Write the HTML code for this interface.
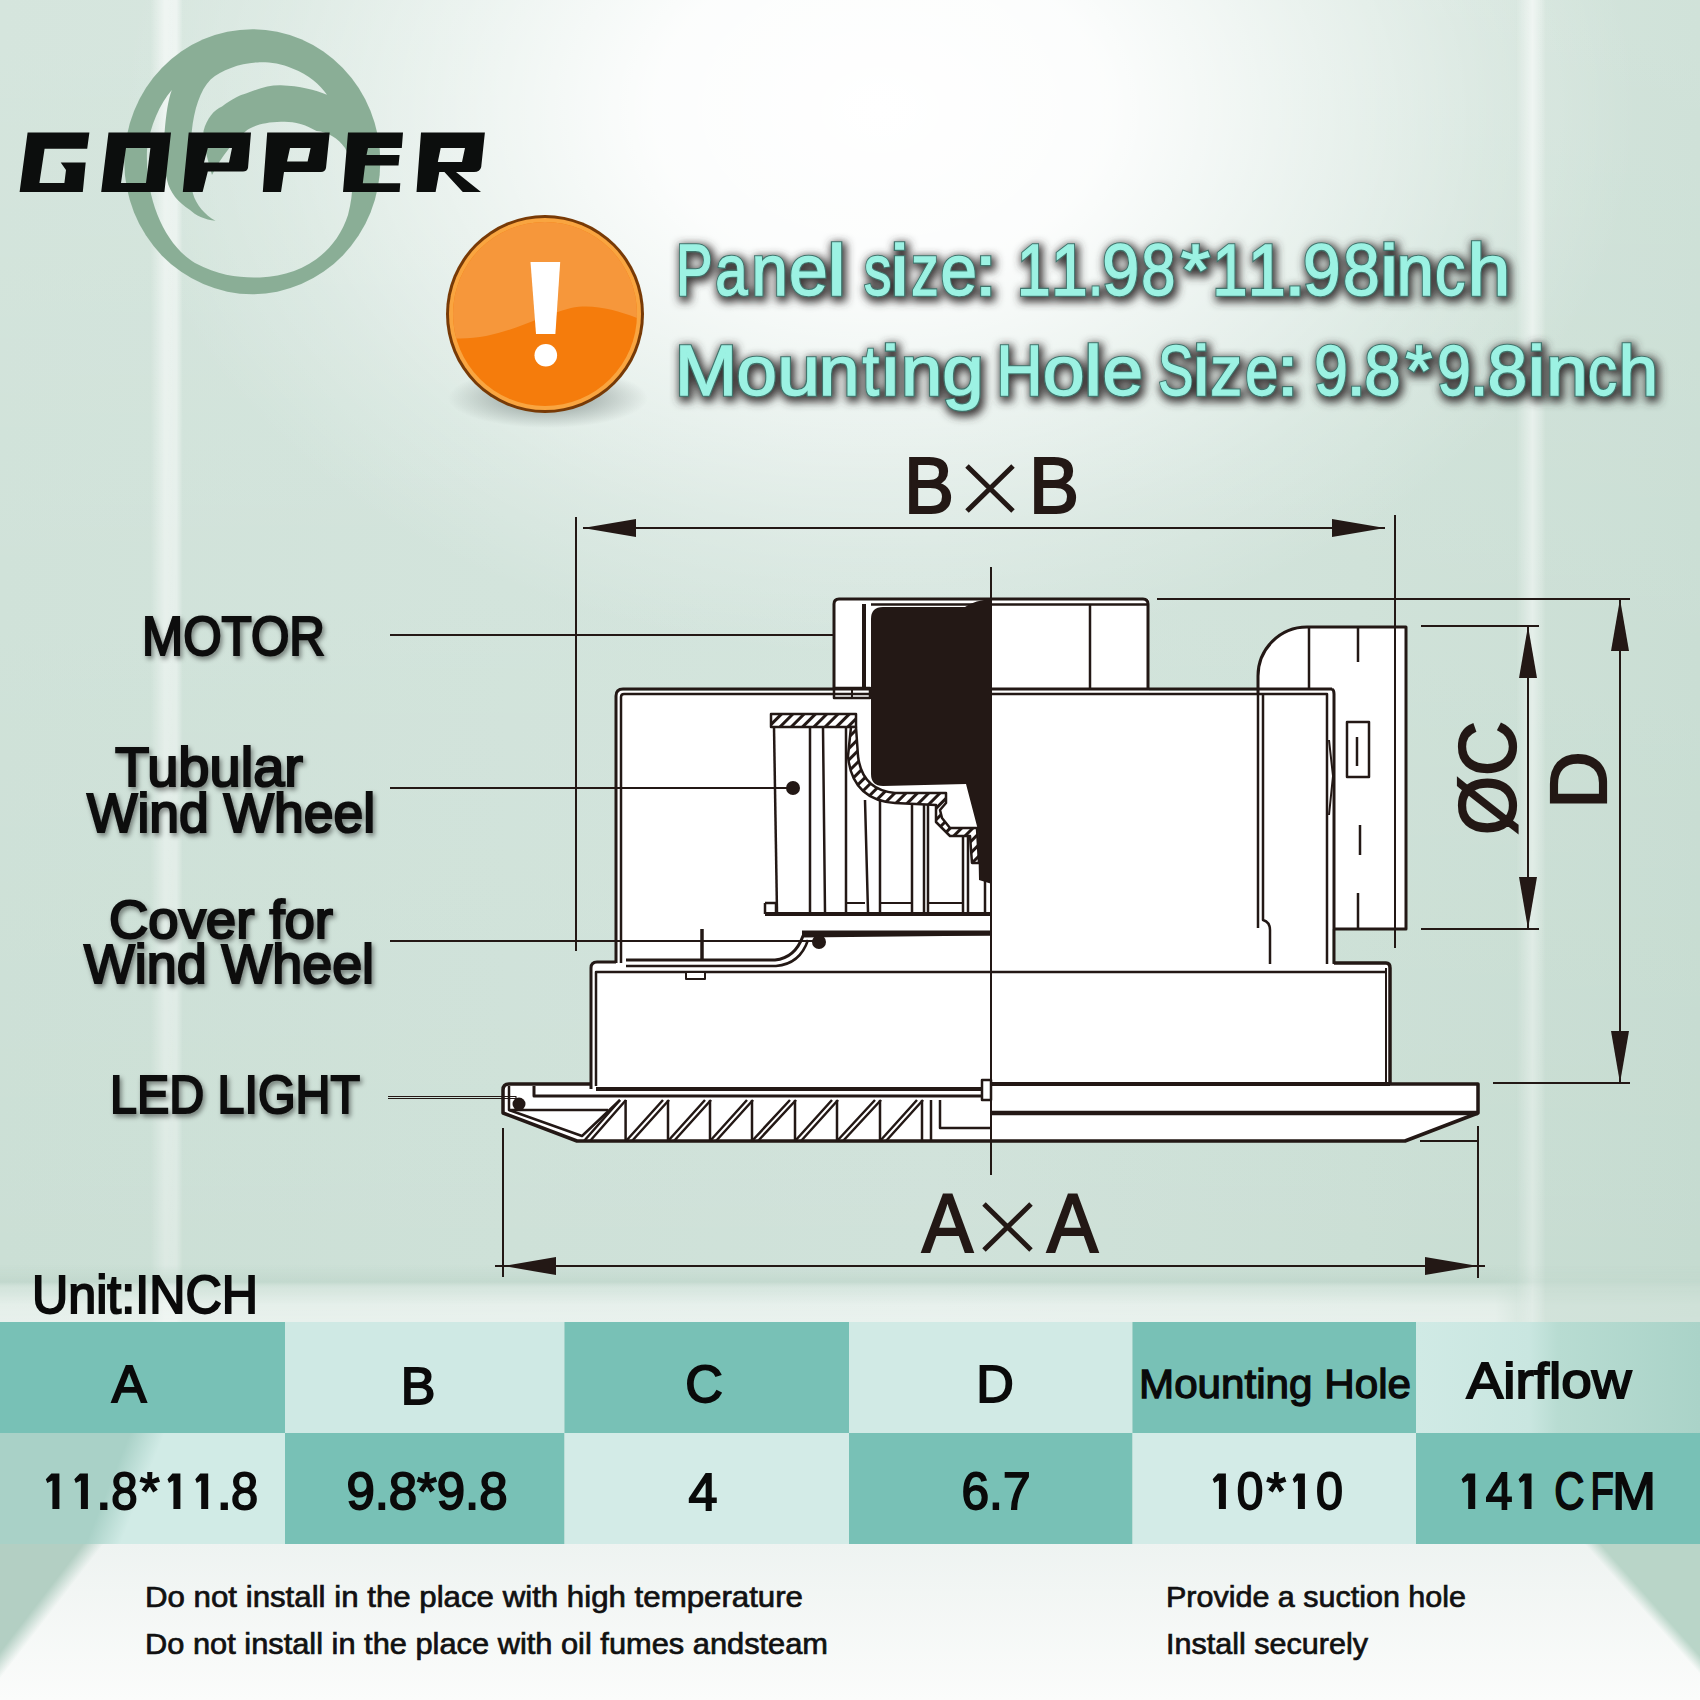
<!DOCTYPE html>
<html><head><meta charset="utf-8">
<style>
html,body{margin:0;padding:0;width:1700px;height:1700px;overflow:hidden;background:#d3e6df;}
#bg{position:absolute;left:0;top:0;width:1700px;height:1700px;}
svg{position:absolute;left:0;top:0;}
text{font-family:"Liberation Sans",sans-serif;}
</style></head>
<body>
<svg id="bg" width="1700" height="1700" viewBox="0 0 1700 1700">
<defs>
  <linearGradient id="hgrad" x1="0" y1="0" x2="1" y2="0">
    <stop offset="0" stop-color="#cbdfd5"/>
    <stop offset="0.3" stop-color="#cee1d8"/>
    <stop offset="0.55" stop-color="#d0e2da"/>
    <stop offset="0.8" stop-color="#cbdfd5"/>
    <stop offset="1" stop-color="#c5dbd0"/>
  </linearGradient>
  <radialGradient id="glow" cx="880" cy="110" r="760" gradientUnits="userSpaceOnUse" gradientTransform="translate(880 110) scale(1 0.72) translate(-880 -110)">
    <stop offset="0" stop-color="#ffffff" stop-opacity="1"/>
    <stop offset="0.3" stop-color="#ffffff" stop-opacity="0.92"/>
    <stop offset="0.55" stop-color="#ffffff" stop-opacity="0.55"/>
    <stop offset="0.8" stop-color="#ffffff" stop-opacity="0.2"/>
    <stop offset="1" stop-color="#ffffff" stop-opacity="0"/>
  </radialGradient>
  <linearGradient id="vfade" x1="0" y1="0" x2="0" y2="1">
    <stop offset="0" stop-color="#ffffff" stop-opacity="0.2"/>
    <stop offset="0.35" stop-color="#ffffff" stop-opacity="0.12"/>
    <stop offset="1" stop-color="#ffffff" stop-opacity="0"/>
  </linearGradient>
  <linearGradient id="strip" x1="0" y1="0" x2="1" y2="0">
    <stop offset="0" stop-color="#ffffff" stop-opacity="0"/>
    <stop offset="0.45" stop-color="#ffffff" stop-opacity="0.6"/>
    <stop offset="0.8" stop-color="#ffffff" stop-opacity="0.55"/>
    <stop offset="1" stop-color="#ffffff" stop-opacity="0"/>
  </linearGradient>
  <linearGradient id="strip2" x1="0" y1="0" x2="1" y2="0">
    <stop offset="0" stop-color="#ffffff" stop-opacity="0"/>
    <stop offset="0.55" stop-color="#ffffff" stop-opacity="0.6"/>
    <stop offset="0.85" stop-color="#ffffff" stop-opacity="0.25"/>
    <stop offset="1" stop-color="#ffffff" stop-opacity="0"/>
  </linearGradient>
  <linearGradient id="stripfade" x1="0" y1="0" x2="0" y2="1">
    <stop offset="0" stop-color="#fff" stop-opacity="1"/>
    <stop offset="0.4" stop-color="#fff" stop-opacity="0.8"/>
    <stop offset="1" stop-color="#fff" stop-opacity="0.45"/>
  </linearGradient>
  <mask id="stripmask" maskUnits="userSpaceOnUse" x="0" y="0" width="1700" height="1700">
    <rect x="0" y="0" width="1700" height="1545" fill="url(#stripfade)"/>
  </mask>
  <linearGradient id="tgfade" gradientUnits="userSpaceOnUse" x1="1495" y1="0" x2="1535" y2="0">
    <stop offset="0" stop-color="#fff"/><stop offset="1" stop-color="#fff" stop-opacity="0.35"/>
  </linearGradient>
  <mask id="tgmask" maskUnits="userSpaceOnUse" x="0" y="1200" width="1700" height="200">
    <rect x="0" y="1200" width="1700" height="200" fill="url(#tgfade)"/>
  </mask>
  <linearGradient id="bottomwhite" x1="0" y1="0" x2="0" y2="1">
    <stop offset="0" stop-color="#eef3f1"/>
    <stop offset="1" stop-color="#fbfcfb"/>
  </linearGradient>
  <linearGradient id="tableglow" x1="0" y1="0" x2="0" y2="1">
    <stop offset="0" stop-color="#b9d2c6" stop-opacity="0"/>
    <stop offset="0.3" stop-color="#b9d2c6" stop-opacity="0.5"/>
    <stop offset="0.45" stop-color="#ffffff" stop-opacity="0.2"/>
    <stop offset="0.7" stop-color="#ffffff" stop-opacity="0.5"/>
    <stop offset="1" stop-color="#ffffff" stop-opacity="0.55"/>
  </linearGradient>
  <linearGradient id="diag2" gradientUnits="userSpaceOnUse" x1="43" y1="1596" x2="56" y2="1606">
    <stop offset="0" stop-color="#b3cfc3"/><stop offset="1" stop-color="#b3cfc3" stop-opacity="0"/>
  </linearGradient>
  <linearGradient id="diag3" gradientUnits="userSpaceOnUse" x1="1644" y1="1611" x2="1653" y2="1603">
    <stop offset="0" stop-color="#b9d5c8" stop-opacity="0"/><stop offset="1" stop-color="#b9d5c8"/>
  </linearGradient>
</defs>
<rect x="0" y="0" width="1700" height="1700" fill="url(#hgrad)"/>
<rect x="0" y="0" width="1700" height="1300" fill="url(#vfade)"/>
<rect x="0" y="0" width="1700" height="1300" fill="url(#glow)"/>
<g mask="url(#stripmask)">
<rect x="150" y="0" width="33" height="1545" fill="url(#strip)"/>
<rect x="1516" y="0" width="30" height="1545" fill="url(#strip2)"/>
</g>
<rect x="0" y="1265" width="1700" height="57" fill="url(#tableglow)" mask="url(#tgmask)"/>
<rect x="0" y="1544" width="1700" height="156" fill="url(#bottomwhite)"/>
<rect x="0" y="1544" width="300" height="156" fill="url(#diag2)"/>
<rect x="1450" y="1544" width="250" height="156" fill="url(#diag3)"/>
</svg>

<svg id="fg" width="1700" height="1700" viewBox="0 0 1700 1700">
<defs>
  <filter id="hshadow" x="-5%" y="-40%" width="115%" height="190%">
    <feMorphology in="SourceAlpha" operator="dilate" radius="2"/>
    <feGaussianBlur stdDeviation="4.5"/>
    <feOffset dx="2" dy="3" result="b"/>
    <feFlood flood-color="#3c3838" flood-opacity="1"/>
    <feComposite in2="b" operator="in" result="s"/>
    <feMerge><feMergeNode in="s"/><feMergeNode in="SourceGraphic"/></feMerge>
  </filter>
  <filter id="lshadow" x="-5%" y="-30%" width="110%" height="160%">
    <feGaussianBlur in="SourceAlpha" stdDeviation="2.5"/>
    <feOffset dx="2" dy="3" result="b"/>
    <feFlood flood-color="#000000" flood-opacity="0.45"/>
    <feComposite in2="b" operator="in" result="s"/>
    <feMerge><feMergeNode in="s"/><feMergeNode in="SourceGraphic"/></feMerge>
  </filter>
  <radialGradient id="iconshadow" cx="0.5" cy="0.5" r="0.5">
    <stop offset="0" stop-color="#6f7d78" stop-opacity="0.75"/><stop offset="0.5" stop-color="#7d8a86" stop-opacity="0.45"/>
    <stop offset="1" stop-color="#7d8a86" stop-opacity="0"/>
  </radialGradient>
  <linearGradient id="diag1" gradientUnits="userSpaceOnUse" x1="112" y1="1478" x2="142" y2="1490">
    <stop offset="0" stop-color="#a9d1c7"/><stop offset="1" stop-color="#a9d1c7" stop-opacity="0"/>
  </linearGradient>
  <linearGradient id="airflowgrad" x1="0" y1="0" x2="1" y2="0">
    <stop offset="0" stop-color="#d0eae5"/><stop offset="0.4" stop-color="#c9e6e0"/><stop offset="0.5" stop-color="#b8dcd2"/><stop offset="1" stop-color="#aad3c8"/>
  </linearGradient>
  <filter id="soft" x="-20%" y="-20%" width="140%" height="140%"><feGaussianBlur stdDeviation="6"/></filter>
  <clipPath id="iconclip"><circle cx="545" cy="314" r="92"/></clipPath>
</defs>
<!-- LOGO -->
<g id="logo">
  <mask id="logomask" maskUnits="userSpaceOnUse" x="0" y="0" width="500" height="320">
    <ellipse cx="252.3" cy="161.7" rx="128" ry="132.5" fill="#fff"/>
    <path fill="#000" d="M171.8,90 C160,104 150,125 147,150 C145,200 165,245 195,263 C220,276 240,278 260,277.4 C300,276 335,255 348,215 C356,185 352,160 345,148 C338,138 328,132 316.5,131 C305,124 292,121 281,121.8 C265,122 252,126 246,131 C235,140 222,155 212,175 C208,160 203,145 203.5,131 C207,118 214,110 222,106.5 C232,99 240,95 245.9,93.5 C260,88 270,85 281,85.3 C300,86 315,90 327,94.7 C320,85 308,74 293,68.8 C280,63 268,62 257.6,62.4 C240,63 222,70 210.6,79.4 C200,90 194,110 191.8,131 C190,150 190,175 192.8,193 C196,205 205,215 215.5,220.8 C205,220 195,215 190,210 C178,202 170,193 167,180 C163,165 162,150 164.7,131 C166,115 168,100 171.8,90 Z"/>
  </mask>
  <rect x="100" y="20" width="300" height="290" fill="#8aae96" mask="url(#logomask)"/>
  <g fill="#0c0e0d">
    <path d="M27.6,132.5 L89.4,132.5 L87.2,148.7 L44.6,148.7 L39.4,183 L64.4,183 L66,170 L60.7,162.6 L85.7,162.6 L82.8,192 L19.6,192 Z"/>
    <path fill-rule="evenodd" d="M108.5,132.5 L171,132.5 L164.4,192 L101.2,192 Z M126,148 L150.4,148 L146,183 L121,183 Z"/>
    <path fill-rule="evenodd" d="M188.7,132.5 L251,132.5 L248,168 Q247,171.5 243,171.5 L207.8,171.5 L202.6,192 L182.8,192 Z M207.8,148 L232,148 L229,162.6 L204,162.6 Z"/>
    <path fill-rule="evenodd" d="M267.2,132.5 L329.7,132.5 L326,168 Q325,172 321,172 L284,172 L281,192 L262.8,192 Z M290,148 L310.6,148 L307.6,161.6 L287,161.6 Z"/>
    <path d="M348,132.5 L403,132.5 L401.8,148 L368,148 L366.5,155 L399.6,155 L398.5,165.6 L365,165.6 L362.8,183.2 L400.3,183.2 L399.6,192 L343,192 Z"/>
    <path fill-rule="evenodd" d="M421,132.5 L484.9,132.5 L481.2,167 Q480,172 474,172 L456,172 L481,192 L462.8,192 L444.4,172 L439.3,172 L435.6,192 L416.5,192 Z M440.7,148 L465,148 L462,162 L437.8,162 Z"/>
  </g>
</g>
<!-- WARNING ICON -->
<g id="icon">
  <ellipse cx="548" cy="398" rx="100" ry="30" fill="url(#iconshadow)"/>
  <circle cx="545" cy="314" r="99" fill="#783a06"/>
  <circle cx="545" cy="314" r="96" fill="#f9a540"/>
  <circle cx="545" cy="314" r="92" fill="#f57c0c"/>
  <path clip-path="url(#iconclip)" fill="#f6973b" d="M440,200 L660,200 L660,327 C630,315 600,302 571,308 C530,318 495,345 440,337 Z"/>
  <path fill="#ffffff" d="M530.5,262 L560.2,262 L555.4,334 L536,334 Z"/>
  <circle cx="545.8" cy="355.3" r="11.3" fill="#ffffff"/>
</g>

<defs>
  <pattern id="hatch" patternUnits="userSpaceOnUse" width="8" height="8" patternTransform="rotate(45)">
    <rect width="8" height="8" fill="#ffffff"/>
    <rect x="0" y="0" width="3" height="8" fill="#231815"/>
  </pattern>
</defs>
<g id="diagram" stroke="#231815" fill="none" stroke-linejoin="round">
  <!-- ===== white body fills ===== -->
  <g fill="#ffffff" stroke="none">
    <rect x="834" y="599" width="315" height="92"/>
    <rect x="616" y="691" width="716" height="273"/>
    <path d="M1258,929 L1258,676 A49,49 0 0 1 1307,627 L1406,627 L1406,929 Z"/>
    <rect x="591" y="963" width="799" height="126"/>
    <path d="M503,1084 L1478,1084 L1478,1113 L1405,1141 L577,1141 L503,1113 Z"/>
  </g>
  <!-- ===== top motor block ===== -->
  <path stroke-width="3" d="M834,688 L834,604 Q834,599 839,599 L1143,599 Q1148,599 1148,604 L1148,688"/>
  <path stroke-width="2.5" d="M871,604.5 L1148,604.5"/>
  <path stroke-width="2.5" d="M1090,604 L1090,688"/>
  <path stroke-width="4" d="M864,604 L864,688"/>
  <rect x="834" y="688" width="36" height="10" stroke-width="2.5" fill="#ffffff"/>
  <path stroke-width="2" d="M852,688 L852,698"/>
  <!-- ===== main housing ===== -->
  <path stroke-width="3" d="M616,963 L616,696 Q616,689 623,689 L1332,689"/>
  <path stroke-width="2.5" d="M621,963 L621,697 Q621,694 624,694 L1327,694 L1327,964"/>
  <path stroke-width="3" d="M1332,689 Q1334,690 1334,694 L1334,964"/>
  <path stroke-width="2.5" d="M1258,694 L1258,928"/>
  <path stroke-width="2.5" d="M1263,694 L1263,920 Q1270,922 1270,930 L1270,964"/>
  <!-- ===== duct ===== -->
  <path stroke-width="3" d="M1258,694 L1258,676 A49,49 0 0 1 1307,627 L1406,627 L1406,929 L1334,929"/>
  <path stroke-width="2.5" d="M1309,627 L1309,689"/>
  <path stroke-width="2.5" d="M1358,627 L1358,662 M1360,825 L1360,855 M1358,893 L1358,929"/>
  <rect x="1347" y="722" width="22" height="55" stroke-width="2.5" fill="#ffffff"/>
  <path stroke-width="2.5" d="M1357,737 L1357,766"/>
  <path stroke-width="2" d="M1329,740 L1333,776 L1329,815"/>
  <!-- ===== middle box ===== -->
  <path stroke-width="3" d="M591,1089 L591,968 Q591,962 597,962 L616,962"/>
  <path stroke-width="2.5" d="M596,1086 L596,972 L1385,972"/>
  <path stroke-width="3.5" d="M1334,963 L1386,963 Q1390,963 1390,968 L1390,1084"/>
  <path stroke-width="2" d="M1386,968 L1386,1084"/>
  <!-- cover for wind wheel -->
  <path stroke-width="3" d="M626,960 L775,960 Q795,958 803,936 L992,934"/>
  <path stroke-width="2.5" d="M626,966 L776,966 Q800,964 808,940"/>
  <path stroke-width="5" d="M802,933 L992,933"/>
  <path stroke-width="3.5" d="M702,929 L702,960"/>
  <rect x="686" y="972" width="19" height="7" stroke-width="2" fill="#ffffff"/>
  <!-- ===== wind wheel ===== -->
  <rect x="771" y="714" width="85" height="13" fill="url(#hatch)" stroke-width="2.5"/>
  <path stroke-width="2.5" d="M774,727 L777,912"/>
  <path stroke-width="4" d="M765,914 L992,914"/>
  <path stroke-width="2.5" d="M765,903 L776,903 L776,914 M765,903 L765,914"/>
  <path stroke-width="2.5" d="M810,727 L810,912 M823,727 L825,912 M846,727 L846,912 M865,800 L868,912 M880,800 L880,912 M912,803 L912,912 M924,803 L924,912 M928,803 L928,912 M963,835 L963,912 M968,835 L968,912 M985,865 L985,912"/>
  <path stroke-width="2" d="M846,903 L865,903 M880,903 L912,903 M928,903 L963,903"/>
  <!-- hatched curved shroud -->
  <path fill="url(#hatch)" stroke-width="2.5" d="M851,727 L856,727 L858,756 Q862,790 895,793 L946,793 L946,803 L940,810 L942,818 L950,828 L977,828 L979,863 L972,863 L970,836 L950,836 L936,822 L936,805 L895,803 Q852,800 848,756 Z"/>
  <!-- black motor -->
  <path fill="#231815" stroke="none" d="M871,619 Q871,607 883,607 L965,607 Q975,600 992,599 L992,884 L979,880 L978,830 L966,784 L883,786 Q871,786 871,774 Z"/>
  <!-- ===== panel ===== -->
  <path stroke-width="3.5" d="M591,1084 L509,1084 Q503,1084 503,1090 L503,1113 L577,1141 L1405,1141 L1478,1113 L1478,1084 L1390,1084"/>
  <path stroke-width="2.5" d="M509,1086 L509,1110 L582,1136 L620,1100"/>
  <path stroke-width="2.5" d="M509,1110 L608,1110"/>
  <path stroke-width="3" d="M534,1086 L534,1096 L992,1096"/>
  <path stroke-width="4" d="M596,1089 L992,1089"/>
  <path stroke-width="4.5" d="M991,1113 L1478,1113"/>
  <path stroke-width="4" d="M991,1084 L1390,1084"/>
  <g stroke-width="2.5">
    <path d="M625.6,1100 L625.6,1141 M668,1100 L668,1141 M710,1100 L710,1141 M752,1100 L752,1141 M795,1100 L795,1141 M837,1100 L837,1141 M880,1100 L880,1141 M922,1100 L922,1141"/>
    <path d="M584,1141 L620,1100 M590,1141 L626,1100 M626,1141 L663,1100 M632,1141 L669,1100 M668,1141 L705,1100 M674,1141 L711,1100 M710,1141 L747,1100 M716,1141 L753,1100 M752,1141 L790,1100 M758,1141 L796,1100 M795,1141 L832,1100 M801,1141 L838,1100 M837,1141 L875,1100 M843,1141 L881,1100 M880,1141 L917,1100 M886,1141 L923,1100"/>
    <path d="M931,1100 L931,1141 M940,1100 L940,1128 L991,1128"/>
  </g>
  <rect x="982" y="1080" width="9" height="20" stroke-width="2.5" fill="#ffffff"/>
  <!-- ===== dimension lines ===== -->
  <g stroke-width="2">
    <path d="M576,517 L576,951 M1395,515 L1395,948"/>
    <path d="M583,528 L1385,528"/>
    <path d="M991,567 L991,1175"/>
    <path d="M1157,599 L1630,599 M1493,1083 L1630,1083"/>
    <path d="M1620,599 L1620,1083"/>
    <path d="M1421,626 L1539,626 M1421,929 L1539,929"/>
    <path d="M1528,626 L1528,929"/>
    <path d="M503,1128 L503,1277 M1478,1126 L1478,1278 M1420,1141 L1478,1141"/>
    <path d="M495,1266 L1485,1266"/>
    <!-- leaders -->
    <path d="M390,635 L835,635"/>
    <path d="M390,788 L793,788"/>
    <path d="M390,941 L818,941"/>
  </g>
  <path stroke-width="1.2" d="M388,1096.5 L516,1096.5 L516,1098.5 L388,1098.5"/>
  <g fill="#231815" stroke="none">
    <circle cx="793" cy="788" r="7"/>
    <circle cx="819" cy="942" r="7"/>
    <circle cx="519" cy="1104" r="6.5"/>
    <polygon points="583,528 636,519 636,537"/>
    <polygon points="1385,528 1332,519 1332,537"/>
    <polygon points="1620,599 1611,651 1629,651"/>
    <polygon points="1620,1083 1611,1031 1629,1031"/>
    <polygon points="1528,626 1519,678 1537,678"/>
    <polygon points="1528,929 1519,877 1537,877"/>
    <polygon points="503,1266 556,1257 556,1275"/>
    <polygon points="1478,1266 1425,1257 1425,1275"/>
  </g>
</g>
<!-- dimension letters -->
<g fill="#231815" stroke="#231815" stroke-width="2.2" font-size="80">
  <text x="904" y="513" textLength="50" lengthAdjust="spacingAndGlyphs">B</text>
  <text x="1029" y="513" textLength="50" lengthAdjust="spacingAndGlyphs">B</text>
  <text x="922" y="1252" font-size="83" textLength="51" lengthAdjust="spacingAndGlyphs">A</text>
  <text x="1047" y="1252" font-size="83" textLength="51" lengthAdjust="spacingAndGlyphs">A</text>
</g>
<g stroke="#231815" stroke-width="5">
  <path d="M967,466 L1013,511 M1013,466 L967,511"/>
  <path d="M984,1204 L1031,1250 M1031,1204 L984,1250"/>
</g>
<g fill="#231815" stroke="#231815" stroke-width="2.2" font-size="80">
  <text transform="translate(1515,835) rotate(-90)" textLength="114" lengthAdjust="spacingAndGlyphs">ØC</text>
  <text transform="translate(1606,809) rotate(-90)">D</text>
</g>

<!-- LABELS -->
<g fill="#0a0a0a" stroke="#0a0a0a" stroke-width="2.2" filter="url(#lshadow)">
  <text x="142" y="655" font-size="55" textLength="183" lengthAdjust="spacingAndGlyphs">MOTOR</text>
  <text x="115" y="786" font-size="56" textLength="188" lengthAdjust="spacingAndGlyphs">Tubular</text>
  <text x="87" y="832" font-size="56" textLength="288" lengthAdjust="spacingAndGlyphs">Wind Wheel</text>
  <text x="109" y="938" font-size="53" textLength="224" lengthAdjust="spacingAndGlyphs">Cover for</text>
  <text x="84" y="983" font-size="56" textLength="290" lengthAdjust="spacingAndGlyphs">Wind Wheel</text>
  <text x="110" y="1113" font-size="54" textLength="250" lengthAdjust="spacingAndGlyphs">LED LIGHT</text>
</g>
<text x="32" y="1313" font-size="54" fill="#0a0a0a" stroke="#0a0a0a" stroke-width="2" textLength="226" lengthAdjust="spacingAndGlyphs">Unit:INCH</text>
<!-- TABLE -->
<g id="table">
  <rect x="0" y="1322" width="285" height="111" fill="#78c1b6"/>
  <rect x="285" y="1322" width="279.5" height="111" fill="#cfe9e4"/>
  <rect x="564.5" y="1322" width="284.5" height="111" fill="#78c1b6"/>
  <rect x="849" y="1322" width="283.5" height="111" fill="#d1eae5"/>
  <rect x="1132.5" y="1322" width="283.5" height="111" fill="#78c1b6"/>
  <rect x="1416" y="1322" width="284" height="111" fill="url(#airflowgrad)"/>
  <rect x="0" y="1433" width="285" height="111" fill="#d1ebe6"/>
  <rect x="285" y="1433" width="279.5" height="111" fill="#78c1b6"/>
  <rect x="564.5" y="1433" width="284.5" height="111" fill="#d3ebe7"/>
  <rect x="849" y="1433" width="283.5" height="111" fill="#78c1b6"/>
  <rect x="1132.5" y="1433" width="283.5" height="111" fill="#d3ebe7"/>
  <rect x="1416" y="1433" width="284" height="111" fill="#78c1b6"/>
  <rect x="0" y="1433" width="285" height="111" fill="url(#diag1)"/>
</g>
<g fill="#0a0a0a" stroke="#0a0a0a" stroke-width="1.8" font-size="52" text-anchor="middle">
  <text x="129" y="1402">A</text>
  <text x="418" y="1404">B</text>
  <text x="704" y="1402">C</text>
  <text x="995" y="1402">D</text>
  <text x="1275" y="1398" font-size="41" stroke-width="1.3" textLength="272" lengthAdjust="spacingAndGlyphs">Mounting Hole</text>
  <text x="1549" y="1398" font-size="50" textLength="165" lengthAdjust="spacingAndGlyphs">Airflow</text>
  <text x="427" y="1509" font-size="51" textLength="161" lengthAdjust="spacing">9.8*9.8</text>
  <text x="703" y="1510">4</text>
  <text x="996" y="1509" textLength="69" lengthAdjust="spacingAndGlyphs">6.7</text>
</g>
<g fill="#0a0a0a" stroke="#0a0a0a" stroke-width="1.8" font-size="51">
<path stroke="none" d="M59.4,1473.5 L59.4,1509.0 L52.4,1509.0 L52.4,1480.5 L47.3,1483 L45.8,1479.2 L51.4,1473.5 Z"/>
<path stroke="none" d="M87.9,1473.5 L87.9,1509.0 L80.9,1509.0 L80.9,1480.5 L75.8,1483 L74.3,1479.2 L79.9,1473.5 Z"/>
<path stroke="none" d="M180.4,1473.5 L180.4,1509.0 L173.4,1509.0 L173.4,1480.5 L169.0,1483 L167.5,1479.2 L172.4,1473.5 Z"/>
<path stroke="none" d="M208.2,1473.5 L208.2,1509.0 L201.2,1509.0 L201.2,1480.5 L196.8,1483 L195.3,1479.2 L200.2,1473.5 Z"/>
<text transform="scale(1.097 1)" x="87.6" y="1509">.</text>
<text transform="scale(0.929 1)" x="119.8" y="1509">8</text>
<text transform="scale(1.004 1)" x="139.2" y="1509">*</text>
<text transform="scale(1.097 1)" x="197.3" y="1509">.</text>
<text transform="scale(0.956 1)" x="241.6" y="1509">8</text>
<path stroke="none" d="M1225.9,1473.5 L1225.9,1509.0 L1218.9,1509.0 L1218.9,1480.5 L1214.2,1483 L1212.7,1479.2 L1217.9,1473.5 Z"/>
<path stroke="none" d="M1304.9,1473.5 L1304.9,1509.0 L1297.9,1509.0 L1297.9,1480.5 L1294.2,1483 L1292.7,1479.2 L1296.9,1473.5 Z"/>
<text transform="scale(0.936 1)" x="1321.3" y="1509">0</text>
<text transform="scale(0.984 1)" x="1287.1" y="1509">*</text>
<text transform="scale(0.951 1)" x="1383.8" y="1509">0</text>
<path stroke="none" d="M1475.2,1473.5 L1475.2,1509.0 L1468.2,1509.0 L1468.2,1480.5 L1463.1,1483 L1461.6,1479.2 L1467.2,1473.5 Z"/>
<path stroke="none" d="M1531.5,1473.5 L1531.5,1509.0 L1524.5,1509.0 L1524.5,1480.5 L1520.1,1483 L1518.6,1479.2 L1523.5,1473.5 Z"/>
<text transform="scale(0.942 1)" x="1577.1" y="1509">4</text>
<text transform="scale(0.818 1)" x="1900.1" y="1509">C</text>
<text transform="scale(0.750 1)" x="2120.7" y="1509">F</text>
<text transform="scale(1.027 1)" x="1569.9" y="1509">M</text>
</g>
<!-- BOTTOM NOTES -->
<g fill="#111111" stroke="#111111" stroke-width="0.7" font-size="29">
  <text x="145" y="1607" textLength="658" lengthAdjust="spacingAndGlyphs">Do not install in the place with high temperature</text>
  <text x="145" y="1654" textLength="683" lengthAdjust="spacingAndGlyphs">Do not install in the place with oil fumes andsteam</text>
  <text x="1166" y="1607" textLength="300" lengthAdjust="spacingAndGlyphs">Provide a suction hole</text>
  <text x="1166" y="1654" textLength="202" lengthAdjust="spacingAndGlyphs">Install securely</text>
</g>
<!-- HEADLINE -->
<g filter="url(#hshadow)">
<g fill="#3f746c" stroke="#3f746c" stroke-width="3.6">
<g font-size="73">
<text transform="scale(0.750 1)" x="901.4" y="295">P</text>
<text transform="scale(0.797 1)" x="897.3" y="295">a</text>
<text transform="scale(0.895 1)" x="839.6" y="295">n</text>
<text transform="scale(0.954 1)" x="827.1" y="295">e</text>
<text transform="scale(1.150 1)" x="719.3" y="295">l</text>
<text transform="scale(0.750 1)" x="1152.0" y="295">s</text>
<text transform="scale(1.150 1)" x="774.1" y="295">i</text>
<text transform="scale(0.750 1)" x="1215.1" y="295">z</text>
<text transform="scale(0.898 1)" x="1047.2" y="295">e</text>
<text transform="scale(1.078 1)" x="904.3" y="295">:</text>
<text transform="scale(0.827 1)" x="1229.9" y="295">1</text>
<text transform="scale(0.903 1)" x="1163.8" y="295">1</text>
<text transform="scale(0.750 1)" x="1450.7" y="295">.</text>
<text transform="scale(0.911 1)" x="1210.0" y="295">9</text>
<text transform="scale(0.841 1)" x="1357.1" y="295">8</text>
<text transform="scale(1.037 1)" x="1138.7" y="295">*</text>
<text transform="scale(0.867 1)" x="1398.3" y="295">1</text>
<text transform="scale(0.943 1)" x="1322.8" y="295">1</text>
<text transform="scale(1.078 1)" x="1191.0" y="295">.</text>
<text transform="scale(0.925 1)" x="1408.6" y="295">9</text>
<text transform="scale(0.903 1)" x="1487.4" y="295">8</text>
<text transform="scale(1.150 1)" x="1199.9" y="295">i</text>
<text transform="scale(0.919 1)" x="1519.6" y="295">n</text>
<text transform="scale(0.827 1)" x="1735.3" y="295">c</text>
<text transform="scale(1.056 1)" x="1389.6" y="295">h</text>
</g>
<g font-size="70">
<text transform="scale(1.072 1)" x="629.5" y="395">M</text>
<text transform="scale(1.039 1)" x="708.9" y="395">o</text>
<text transform="scale(1.098 1)" x="707.9" y="395">u</text>
<text transform="scale(1.047 1)" x="782.1" y="395">n</text>
<text transform="scale(0.851 1)" x="1013.5" y="395">t</text>
<text transform="scale(1.150 1)" x="766.5" y="395">i</text>
<text transform="scale(1.060 1)" x="849.9" y="395">n</text>
<text transform="scale(1.064 1)" x="885.5" y="395">g</text>
<text transform="scale(0.916 1)" x="1087.6" y="395">H</text>
<text transform="scale(1.074 1)" x="970.8" y="395">o</text>
<text transform="scale(1.150 1)" x="942.9" y="395">l</text>
<text transform="scale(1.042 1)" x="1058.0" y="395">e</text>
<text transform="scale(0.750 1)" x="1544.2" y="395">S</text>
<text transform="scale(1.059 1)" x="1126.5" y="395">i</text>
<text transform="scale(0.914 1)" x="1324.0" y="395">z</text>
<text transform="scale(0.847 1)" x="1470.3" y="395">e</text>
<text transform="scale(1.116 1)" x="1144.0" y="395">:</text>
<text transform="scale(0.860 1)" x="1528.2" y="395">9</text>
<text transform="scale(0.992 1)" x="1357.3" y="395">.</text>
<text transform="scale(0.934 1)" x="1460.6" y="395">8</text>
<text transform="scale(0.984 1)" x="1428.3" y="395">*</text>
<text transform="scale(0.860 1)" x="1671.3" y="395">9</text>
<text transform="scale(0.992 1)" x="1481.3" y="395">.</text>
<text transform="scale(1.022 1)" x="1455.6" y="395">8</text>
<text transform="scale(1.150 1)" x="1328.2" y="395">i</text>
<text transform="scale(1.076 1)" x="1436.7" y="395">n</text>
<text transform="scale(0.823 1)" x="1929.6" y="395">c</text>
<text transform="scale(1.018 1)" x="1590.0" y="395">h</text>
</g>
</g>
<g fill="#9cf2e3" stroke="#9cf2e3" stroke-width="1.4">
<g font-size="73">
<text transform="scale(0.750 1)" x="901.4" y="295">P</text>
<text transform="scale(0.797 1)" x="897.3" y="295">a</text>
<text transform="scale(0.895 1)" x="839.6" y="295">n</text>
<text transform="scale(0.954 1)" x="827.1" y="295">e</text>
<text transform="scale(1.150 1)" x="719.3" y="295">l</text>
<text transform="scale(0.750 1)" x="1152.0" y="295">s</text>
<text transform="scale(1.150 1)" x="774.1" y="295">i</text>
<text transform="scale(0.750 1)" x="1215.1" y="295">z</text>
<text transform="scale(0.898 1)" x="1047.2" y="295">e</text>
<text transform="scale(1.078 1)" x="904.3" y="295">:</text>
<text transform="scale(0.827 1)" x="1229.9" y="295">1</text>
<text transform="scale(0.903 1)" x="1163.8" y="295">1</text>
<text transform="scale(0.750 1)" x="1450.7" y="295">.</text>
<text transform="scale(0.911 1)" x="1210.0" y="295">9</text>
<text transform="scale(0.841 1)" x="1357.1" y="295">8</text>
<text transform="scale(1.037 1)" x="1138.7" y="295">*</text>
<text transform="scale(0.867 1)" x="1398.3" y="295">1</text>
<text transform="scale(0.943 1)" x="1322.8" y="295">1</text>
<text transform="scale(1.078 1)" x="1191.0" y="295">.</text>
<text transform="scale(0.925 1)" x="1408.6" y="295">9</text>
<text transform="scale(0.903 1)" x="1487.4" y="295">8</text>
<text transform="scale(1.150 1)" x="1199.9" y="295">i</text>
<text transform="scale(0.919 1)" x="1519.6" y="295">n</text>
<text transform="scale(0.827 1)" x="1735.3" y="295">c</text>
<text transform="scale(1.056 1)" x="1389.6" y="295">h</text>
</g>
<g font-size="70">
<text transform="scale(1.072 1)" x="629.5" y="395">M</text>
<text transform="scale(1.039 1)" x="708.9" y="395">o</text>
<text transform="scale(1.098 1)" x="707.9" y="395">u</text>
<text transform="scale(1.047 1)" x="782.1" y="395">n</text>
<text transform="scale(0.851 1)" x="1013.5" y="395">t</text>
<text transform="scale(1.150 1)" x="766.5" y="395">i</text>
<text transform="scale(1.060 1)" x="849.9" y="395">n</text>
<text transform="scale(1.064 1)" x="885.5" y="395">g</text>
<text transform="scale(0.916 1)" x="1087.6" y="395">H</text>
<text transform="scale(1.074 1)" x="970.8" y="395">o</text>
<text transform="scale(1.150 1)" x="942.9" y="395">l</text>
<text transform="scale(1.042 1)" x="1058.0" y="395">e</text>
<text transform="scale(0.750 1)" x="1544.2" y="395">S</text>
<text transform="scale(1.059 1)" x="1126.5" y="395">i</text>
<text transform="scale(0.914 1)" x="1324.0" y="395">z</text>
<text transform="scale(0.847 1)" x="1470.3" y="395">e</text>
<text transform="scale(1.116 1)" x="1144.0" y="395">:</text>
<text transform="scale(0.860 1)" x="1528.2" y="395">9</text>
<text transform="scale(0.992 1)" x="1357.3" y="395">.</text>
<text transform="scale(0.934 1)" x="1460.6" y="395">8</text>
<text transform="scale(0.984 1)" x="1428.3" y="395">*</text>
<text transform="scale(0.860 1)" x="1671.3" y="395">9</text>
<text transform="scale(0.992 1)" x="1481.3" y="395">.</text>
<text transform="scale(1.022 1)" x="1455.6" y="395">8</text>
<text transform="scale(1.150 1)" x="1328.2" y="395">i</text>
<text transform="scale(1.076 1)" x="1436.7" y="395">n</text>
<text transform="scale(0.823 1)" x="1929.6" y="395">c</text>
<text transform="scale(1.018 1)" x="1590.0" y="395">h</text>
</g>
</g>
</g>
</svg>
</body></html>
